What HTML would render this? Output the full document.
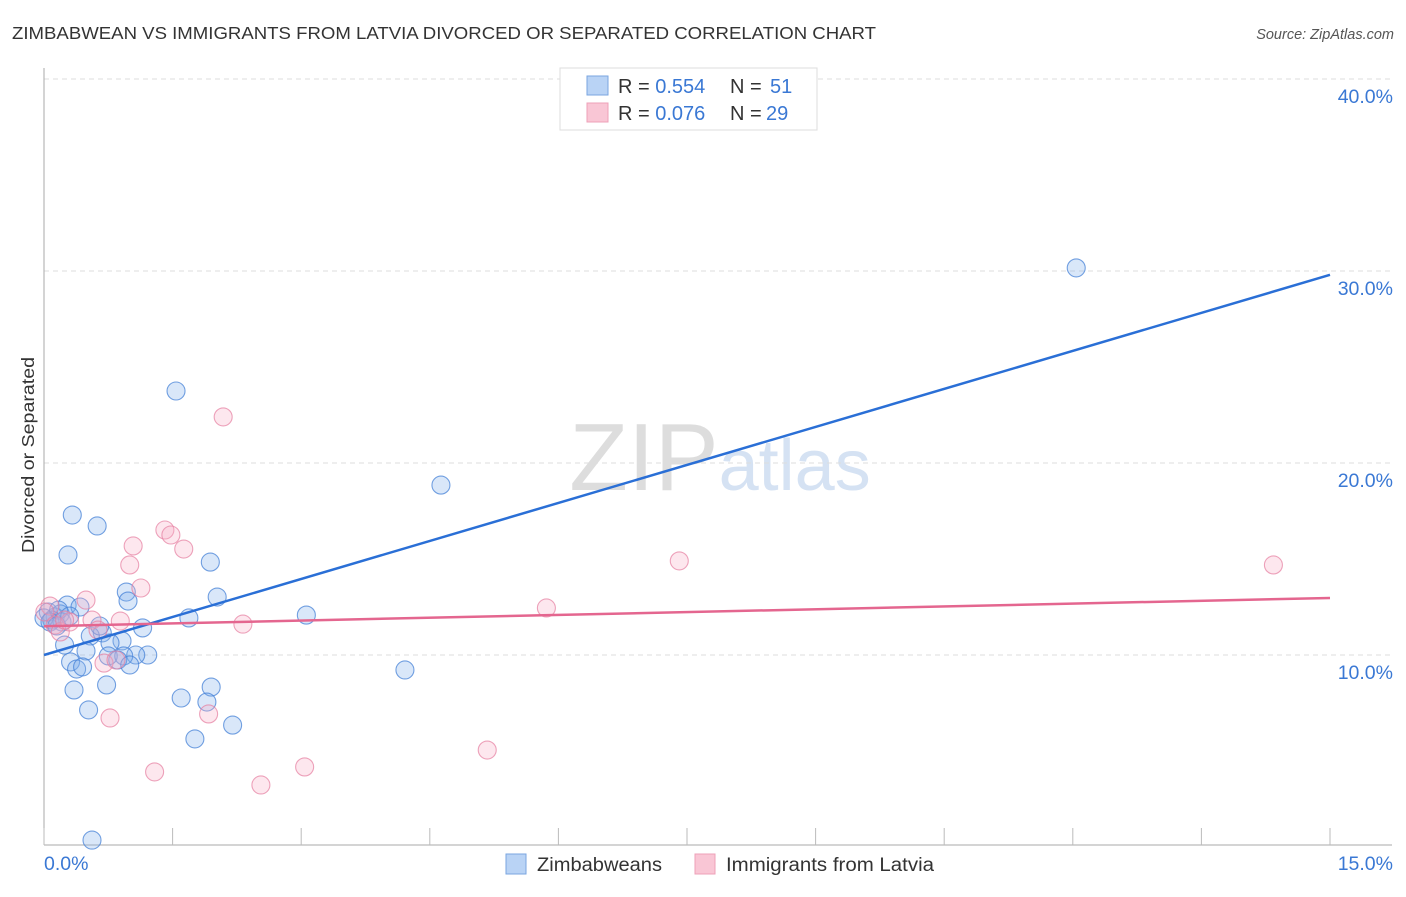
<!DOCTYPE html>
<html><head><meta charset="utf-8"><style>
body{margin:0;background:#fff;font-family:"Liberation Sans",sans-serif;}
svg text{font-family:"Liberation Sans",sans-serif;}
</style></head><body>
<svg id="chart" width="1406" height="892" xmlns="http://www.w3.org/2000/svg">
<text x="12" y="39" font-size="17.5" fill="#333" textLength="864" lengthAdjust="spacingAndGlyphs">ZIMBABWEAN VS IMMIGRANTS FROM LATVIA DIVORCED OR SEPARATED CORRELATION CHART</text>
<text x="1394" y="39" font-size="14.5" fill="#555" text-anchor="end" font-style="italic">Source: ZipAtlas.com</text>
<text x="720" y="490" font-size="96" text-anchor="middle" fill="#ddd" font-family="Liberation Serif">ZIP<tspan fill="#d5e2f3" font-family="Liberation Sans" font-size="72">atlas</tspan></text>
<text transform="translate(34,455) rotate(-90)" font-size="17.5" fill="#333" text-anchor="middle" textLength="196" lengthAdjust="spacingAndGlyphs">Divorced or Separated</text>
<g id="grid"></g><g id="axes"></g><g id="pts"></g><g id="lines"></g>
<g>
<rect x="560" y="68" width="257" height="62" fill="#fff" stroke="#ddd"/>
<rect x="587" y="76" width="21" height="19" fill="#b9d3f5" stroke="#7aa6e0"/>
<rect x="587" y="103" width="21" height="19" fill="#f9c6d5" stroke="#eea0b8"/>
<text x="618" y="93" font-size="20" fill="#333">R = <tspan fill="#3a78d4">0.554</tspan><tspan x="730">N = </tspan><tspan x="770" fill="#3a78d4">51</tspan></text>
<text x="618" y="120" font-size="20" fill="#333">R = <tspan fill="#3a78d4">0.076</tspan><tspan x="730">N = </tspan><tspan x="766" fill="#3a78d4">29</tspan></text>
</g>
<g>
<rect x="506" y="854" width="20" height="20" fill="#b9d3f5" stroke="#7aa6e0"/>
<text x="537" y="871" font-size="19" fill="#333" textLength="125" lengthAdjust="spacingAndGlyphs">Zimbabweans</text>
<rect x="695" y="854" width="20" height="20" fill="#f9c6d5" stroke="#eea0b8"/>
<text x="726" y="871" font-size="19" fill="#333" textLength="208" lengthAdjust="spacingAndGlyphs">Immigrants from Latvia</text>
</g>
</svg>
<script>
const xTicks=[0,1.5,3,4.5,6,7.5,9,10.5,12,13.5,15];
const yTicks=[10,20,30,40];
const yTickLabels=["10.0%","20.0%","30.0%","40.0%"];
const xEndLabels=["0.0%","15.0%"];
const blueX=[12.04,1.54,4.63,0.33,0.62,0.28,1.94,0.96,2.02,0.98,3.06,1.69,0.27,0.42,0.05,0.13,0.19,0.09,0.21,0,1.15,0.68,0.54,0.91,0.77,0.24,0.49,1.21,0.75,1.07,0.93,0.86,0.31,1.00,0.38,0.45,4.21,0.73,0.35,1.60,1.95,1.90,0.52,2.20,1.76,0.56,0.17,0.07,0.15,0.30,0.65];
const blueY=[30.16,23.75,18.85,17.29,16.72,15.21,14.84,13.28,13.02,12.81,12.08,11.93,12.6,12.5,12.24,11.98,12.14,11.82,11.72,11.93,11.41,11.15,10.99,10.73,10.63,10.52,10.21,10.0,9.95,10.0,9.95,9.74,9.64,9.48,9.27,9.38,9.22,8.44,8.18,7.76,8.33,7.55,7.14,6.35,5.63,0.36,12.34,11.72,11.51,12.03,11.51];
const pinkX=[2.09,1.41,1.48,1.04,1.63,7.41,1.00,14.34,1.13,0.49,5.86,0.56,2.32,0.89,0.07,0.01,0.13,0.19,0.30,0.63,0.70,0.84,0.77,1.92,5.17,1.29,3.04,2.53,0.24];
const pinkY=[22.4,16.51,16.25,15.68,15.52,14.9,14.69,14.69,13.49,12.86,12.45,11.82,11.61,11.77,12.55,12.24,11.56,11.2,11.72,11.3,9.58,9.74,6.72,6.93,5.05,3.91,4.17,3.23,11.82];
const blueLine=[10.0,29.8];
const pinkLine=[11.5,12.97];
const NS="http://www.w3.org/2000/svg";
const X=v=>44+v/15*1286, Y=v=>847-v*19.2;
function mk(t,a,p){const e=document.createElementNS(NS,t);for(const k in a)e.setAttribute(k,a[k]);document.getElementById(p).appendChild(e);return e;}
yTicks.forEach((t,i)=>{
 const l=mk('line',{x1:44,x2:1392,y1:Y(t),y2:Y(t),stroke:'#ddd','stroke-dasharray':'5,4'},'grid');
 
 
 const tx=mk('text',{x:1393,y:Y(t)+24,'font-size':19.5,fill:'#3a78d4','text-anchor':'end'},'grid');
 tx.textContent=yTickLabels[i];
 
 
});
const ax=mk('line',{x1:44,x2:44,y1:68,y2:845,stroke:'#aaa'},'axes');


const bx=mk('line',{x1:44,x2:1392,y1:845,y2:845,stroke:'#aaa'},'axes');


xTicks.forEach(t=>{
 const l=mk('line',{x1:X(t),x2:X(t),y1:828,y2:845,stroke:'#bbb'},'axes');
 
 
});
const t0=mk('text',{x:44,y:870,'font-size':19.5,fill:'#3a78d4'},'axes');t0.textContent=xEndLabels[0];


const t1=mk('text',{x:1393,y:870,'font-size':19.5,fill:'#3a78d4','text-anchor':'end'},'axes');t1.textContent=xEndLabels[1];


blueX.forEach((v,i)=>{
 const c=mk('circle',{cx:X(v),cy:Y(blueY[i]),r:9,fill:'rgba(130,175,235,0.3)',stroke:'rgba(70,130,215,0.75)','stroke-width':1.1},'pts');
 
 
});
pinkX.forEach((v,i)=>{
 const c=mk('circle',{cx:X(v),cy:Y(pinkY[i]),r:9,fill:'rgba(248,175,200,0.3)',stroke:'rgba(230,125,160,0.7)','stroke-width':1.1},'pts');
 
 
});
const bl=mk('line',{x1:X(0),y1:Y(blueLine[0]),x2:X(15),y2:Y(blueLine[1]),stroke:'#2a6fd6','stroke-width':2.5},'lines');


const pl=mk('line',{x1:X(0),y1:Y(pinkLine[0]),x2:X(15),y2:Y(pinkLine[1]),stroke:'#e4668f','stroke-width':2.5},'lines');


</script>
</body></html>
